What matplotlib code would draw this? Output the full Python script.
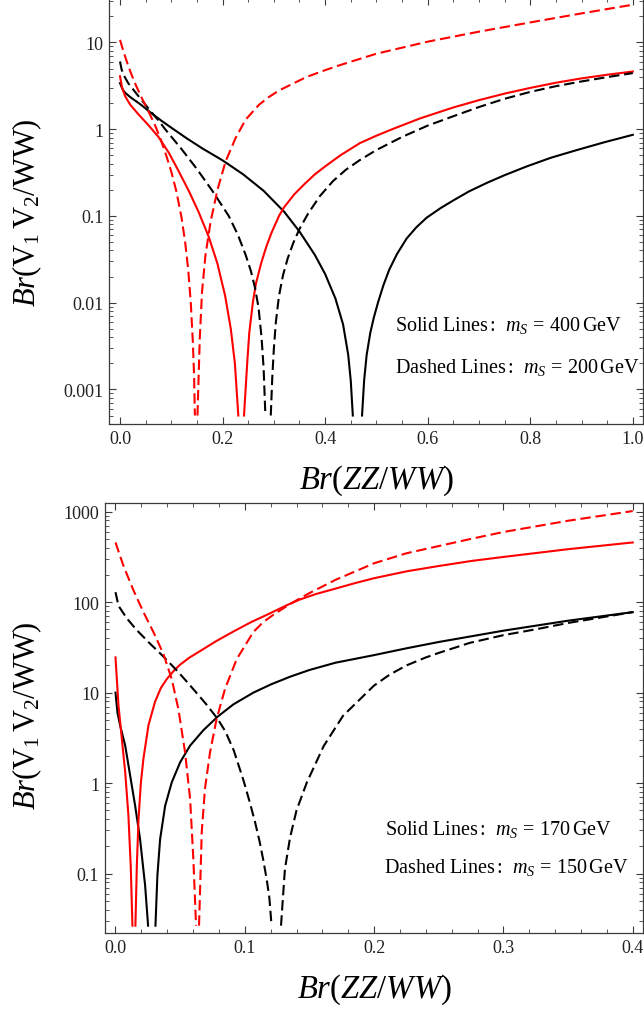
import numpy as np
import matplotlib
matplotlib.use("Agg")
import matplotlib.pyplot as plt
from matplotlib.ticker import FixedLocator, MultipleLocator, LogLocator, NullFormatter, FixedFormatter

plt.rcParams['font.family'] = ['Liberation Serif', 'DejaVu Serif']
plt.rcParams['mathtext.fontset'] = 'custom'
plt.rcParams['mathtext.rm'] = 'Liberation Serif'
plt.rcParams['mathtext.it'] = 'Liberation Serif:italic'
plt.rcParams['mathtext.bf'] = 'Liberation Serif:bold'

NAN = np.nan  # gap where a curve dips below the plotted range

# ---------------- Top panel data (m_S = 400 GeV solid, 200 GeV dashed) ----------------
top_black_solid_x = [0, 0.005, 0.01, 0.02, 0.04, 0.06, 0.08, 0.10, 0.13, 0.16, 0.20, 0.24, 0.28,
                     0.32, 0.35, 0.38, 0.40, 0.42, 0.435, 0.445, 0.45, 0.454, 0.463,
                     0.472, 0.476, 0.481, 0.488, 0.495, 0.503, 0.5135, 0.525, 0.54, 0.559, 0.578, 0.598,
                     0.625, 0.65, 0.68, 0.715, 0.75, 0.793, 0.84, 0.891, 0.945, 1.0]
top_black_solid_y = [3.39, 2.88, 2.63, 2.34, 1.93, 1.55, 1.26, 1.04, 0.785, 0.603, 0.437, 0.302, 0.195,
                     0.112, 0.0661, 0.0355, 0.0214, 0.0112, 0.00562, 0.00251, 0.00126, 0.000501, NAN,
                     0.000501, 0.00126, 0.00251, 0.00447, 0.00676, 0.0100, 0.0158, 0.0240, 0.0363, 0.0550,
                     0.0741, 0.0955, 0.123, 0.151, 0.191, 0.240, 0.295, 0.372, 0.468, 0.575, 0.708, 0.861]

top_red_solid_x = [0, 0.004, 0.01, 0.02, 0.036, 0.055, 0.075, 0.095, 0.114, 0.134, 0.153, 0.173, 0.19,
                   0.205, 0.216, 0.224, 0.2307, 0.236,
                   0.2418, 0.248, 0.252, 0.259, 0.265, 0.275, 0.285, 0.295, 0.31, 0.32, 0.34, 0.36, 0.38,
                   0.40, 0.43, 0.468, 0.50, 0.531, 0.585, 0.65, 0.70, 0.75, 0.80, 0.85, 0.90, 0.95, 1.0]
top_red_solid_y = [4.07, 3.02, 2.40, 1.91, 1.48, 1.12, 0.813, 0.537, 0.331, 0.195, 0.112, 0.0575, 0.0282,
                   0.0120, 0.00501, 0.00200, 0.000501, NAN,
                   0.000501, 0.00200, 0.00447, 0.0100, 0.0166, 0.0282, 0.0437, 0.0631, 0.100, 0.126, 0.178,
                   0.234, 0.302, 0.372, 0.501, 0.692, 0.841, 1.00, 1.33, 1.78, 2.16, 2.57, 2.99, 3.43, 3.85,
                   4.24, 4.62]

top_black_dash_x = [0, 0.003, 0.0065, 0.016, 0.036, 0.062, 0.075, 0.088, 0.12, 0.15, 0.18, 0.212, 0.23,
                    0.245, 0.255, 0.263, 0.27, 0.276, 0.28, 0.2835, 0.289,
                    0.294, 0.297, 0.30, 0.304, 0.31, 0.318, 0.327, 0.338, 0.35, 0.367, 0.39, 0.415, 0.44,
                    0.468, 0.50, 0.55, 0.60, 0.65, 0.70, 0.75, 0.80, 0.85, 0.90, 0.95, 1.0]
top_black_dash_y = [6.03, 4.90, 4.27, 3.39, 2.40, 1.55, 1.26, 1.00, 0.589, 0.347, 0.195, 0.100, 0.0603,
                    0.0355, 0.0234, 0.0151, 0.00891, 0.00398, 0.00178, 0.000501, NAN,
                    0.000501, 0.00141, 0.00295, 0.00603, 0.0120, 0.0209, 0.0324, 0.0490, 0.0708, 0.107,
                    0.170, 0.251, 0.339, 0.442, 0.575, 0.813, 1.10, 1.41, 1.80, 2.24, 2.69, 3.13, 3.55,
                    3.98, 4.43]

top_red_dash_x = [0, 0.005, 0.0098, 0.016, 0.023, 0.03, 0.04, 0.05, 0.06, 0.07, 0.08, 0.09, 0.10, 0.11,
                  0.12, 0.127, 0.133, 0.138, 0.142, 0.1445, 0.146, 0.1485,
                  0.151, 0.1556, 0.160, 0.1667, 0.1765, 0.19, 0.206, 0.2255, 0.245, 0.271, 0.29, 0.31,
                  0.363, 0.40, 0.43, 0.50, 0.60, 0.70, 0.80, 0.90, 1.0]
top_red_dash_y = [10.7, 8.51, 6.92, 5.37, 4.17, 3.31, 2.45, 1.86, 1.41, 1.05, 0.741, 0.501, 0.324, 0.191,
                  0.0955, 0.0501, 0.0240, 0.0100, 0.00355, 0.00141, 0.000501, NAN,
                  0.000501, 0.00398, 0.0135, 0.0355, 0.0851, 0.200, 0.427, 0.794, 1.29, 1.91, 2.34, 2.79,
                  3.98, 4.79, 5.50, 7.41, 10.2, 13.3, 17.0, 21.6, 27.2]

# ---------------- Bottom panel data (m_S = 170 GeV solid, 150 GeV dashed) ----------------
bot_black_solid_x = [0, 0.0015, 0.0036, 0.0075, 0.0113, 0.0152, 0.019, 0.0229, 0.0252, 0.028,
                     0.0309, 0.0324, 0.0345, 0.0384, 0.0435, 0.05, 0.0577, 0.068, 0.079, 0.0911, 0.1066,
                     0.12, 0.135, 0.15, 0.17, 0.2, 0.225, 0.25, 0.3, 0.35, 0.4]
bot_black_solid_y = [10.0, 6.03, 4.32, 2.60, 1.22, 0.562, 0.240, 0.0741, 0.0266, NAN,
                     0.0266, 0.0955, 0.240, 0.562, 1.02, 1.70, 2.60, 3.85, 5.43, 7.41, 10.0,
                     12.3, 15.0, 17.8, 21.4, 26.0, 30.9, 36.3, 48.4, 62.4, 77.6]

bot_red_solid_x = [0, 0.0023, 0.0049, 0.0075, 0.01, 0.0118, 0.0131, 0.0142,
                   0.0154, 0.0165, 0.0178, 0.0196, 0.0216, 0.0255, 0.0306, 0.035, 0.0396, 0.045, 0.05,
                   0.057, 0.0654, 0.078, 0.0911, 0.105, 0.117, 0.133, 0.1426, 0.155, 0.17, 0.185, 0.2,
                   0.225, 0.25, 0.275, 0.3, 0.35, 0.4]
bot_red_solid_y = [24.5, 7.24, 3.09, 1.32, 0.437, 0.120, 0.0266, NAN,
                   0.0266, 0.123, 0.398, 1.00, 1.86, 4.37, 7.94, 11.2, 14.1, 17.4, 20.4,
                   24.3, 28.8, 37.2, 47.3, 60.3, 72.4, 93.3, 107, 123, 141, 162, 184,
                   219, 251, 285, 316, 385, 457]

bot_black_dash_x = [0, 0.0023, 0.0088, 0.0165, 0.0268, 0.037, 0.0474, 0.055, 0.062, 0.07, 0.079, 0.085,
                    0.0915, 0.099, 0.104, 0.1079, 0.1115, 0.1143, 0.117, 0.119, 0.1207, 0.1243,
                    0.128, 0.131, 0.135, 0.14, 0.148, 0.161, 0.176, 0.2, 0.212, 0.225, 0.24, 0.25, 0.274,
                    0.3, 0.325, 0.35, 0.375, 0.4]
bot_black_dash_y = [129, 91.2, 66.1, 49.0, 34.7, 25.1, 17.6, 13.3, 10.2, 7.50, 5.13, 3.72,
                    2.29, 1.07, 0.603, 0.372, 0.224, 0.141, 0.0851, 0.0537, 0.0266, NAN,
                    0.0266, 0.112, 0.251, 0.501, 1.02, 2.57, 5.56, 12.0, 15.8, 20.0, 24.5, 27.5, 35.5,
                    43.2, 50.1, 58.9, 67.6, 77.6]

bot_red_dash_x = [0, 0.0062, 0.0139, 0.0216, 0.0293, 0.037, 0.0435, 0.0486, 0.0538, 0.0577, 0.0602, 0.0623,
                  0.0634,
                  0.0646, 0.0667, 0.0692, 0.0731, 0.0782, 0.0847, 0.0937, 0.1066, 0.1143, 0.122, 0.135,
                  0.1426, 0.15, 0.17, 0.2, 0.225, 0.25, 0.275, 0.3, 0.35, 0.4]
bot_red_dash_y = [457, 251, 135, 77.6, 46.8, 26.9, 14.1, 6.61, 2.19, 0.668, 0.145, 0.0266,
                  NAN,
                  0.0266, 0.288, 0.871, 2.19, 5.13, 11.0, 23.4, 46.8, 60.3, 72.4, 95.5,
                  110, 126, 176, 269, 347, 417, 501, 596, 794, 1016]

top_xticks = [0.0, 0.2, 0.4, 0.6, 0.8, 1.0]
top_xticklabels = ["0.0", "0.2", "0.4", "0.6", "0.8", "1.0"]
top_yticks = [0.001, 0.01, 0.1, 1, 10]
top_yticklabels = ["0.001", "0.01", "0.1", "1", "10"]
bot_xticks = [0.0, 0.1, 0.2, 0.3, 0.4]
bot_xticklabels = ["0.0", "0.1", "0.2", "0.3", "0.4"]
bot_yticks = [0.1, 1, 10, 100, 1000]
bot_yticklabels = ["0.1", "1", "10", "100", "1000"]

top_texts = [r"Solid Lines$\,$:  $m_S\,=\,400\,$GeV", r"Dashed Lines$\,$:  $m_S\,=\,200\,$GeV"]
bot_texts = [r"Solid Lines$\,$:  $m_S\,=\,170\,$GeV", r"Dashed Lines$\,$:  $m_S\,=\,150\,$GeV"]

W, H = 644, 1012
fig = plt.figure(figsize=(W / 100, H / 100), dpi=100)

def px_axes(l, t, r, b):
    return [l / W, 1 - b / H, (r - l) / W, (b - t) / H]

ax1 = fig.add_axes(px_axes(109.3, -1.0, 642.7, 425.0))
ax2 = fig.add_axes(px_axes(104.7, 504.0, 642.7, 934.3))

RED = '#ff0000'
LW = 1.5
DASH = (5.0, 2.3)

def style(ax, xticks, xlabels, yticks, ylabels, xminor):
    ax.set_yscale('log')
    for s in ax.spines.values():
        s.set_color('#3a3a3a')
        s.set_linewidth(0.9)
    ax.xaxis.set_major_locator(FixedLocator(xticks))
    ax.xaxis.set_major_formatter(FixedFormatter(xlabels))
    ax.xaxis.set_minor_locator(MultipleLocator(xminor))
    ax.yaxis.set_major_locator(FixedLocator(yticks))
    ax.yaxis.set_major_formatter(FixedFormatter(ylabels))
    ax.yaxis.set_minor_locator(LogLocator(base=10, subs=np.arange(2, 10), numticks=20))
    ax.yaxis.set_minor_formatter(NullFormatter())
    ax.tick_params(which='both', direction='in', top=True, right=True, color='#3a3a3a')
    ax.tick_params(which='major', length=5, width=0.8, labelsize=13, pad=4, labelcolor='#222222')
    ax.tick_params(which='minor', length=2.6, width=0.6)

def draw(ax, series):
    for x, y, color, dashed in series:
        if dashed:
            ax.plot(x, y, color=color, lw=LW, dashes=DASH)
        else:
            ax.plot(x, y, color=color, lw=LW)

draw(ax1, [
    (top_black_solid_x, top_black_solid_y, 'black', False),
    (top_red_solid_x, top_red_solid_y, RED, False),
    (top_black_dash_x, top_black_dash_y, 'black', True),
    (top_red_dash_x, top_red_dash_y, RED, True),
])
draw(ax2, [
    (bot_black_solid_x, bot_black_solid_y, 'black', False),
    (bot_red_solid_x, bot_red_solid_y, RED, False),
    (bot_black_dash_x, bot_black_dash_y, 'black', True),
    (bot_red_dash_x, bot_red_dash_y, RED, True),
])

style(ax1, top_xticks, top_xticklabels, top_yticks, top_yticklabels, 0.05)
style(ax2, bot_xticks, bot_xticklabels, bot_yticks, bot_yticklabels, 0.02)
ax1.set_xlim(-0.0209, 1.0193)
ax1.set_ylim(4.0e-4, 32.5)
ax2.set_xlim(-0.00835, 0.4077)
ax2.set_ylim(0.0219, 1247)

YLAB_FS = 22
XLAB_FS = 23.5
ylab = r"$\mathit{Br}(\mathrm{V}_1\,\mathrm{V}_2/\mathrm{WW})$"
xlab = r"$\mathit{Br}(ZZ/WW)$"
fig.text(27 / W, 1 - 213 / H, ylab, rotation=90, ha='center', va='center', fontsize=YLAB_FS)
fig.text(376 / W, 1 - 481 / H, xlab, ha='center', va='center', fontsize=XLAB_FS)
fig.text(27 / W, 1 - 716 / H, ylab, rotation=90, ha='center', va='center', fontsize=YLAB_FS)
fig.text(374 / W, 1 - 990 / H, xlab, ha='center', va='center', fontsize=XLAB_FS)

ANN_FS = 14.5
fig.text(395 / W, 1 - 325 / H, top_texts[0], ha='left', va='center', fontsize=ANN_FS)
fig.text(395 / W, 1 - 367 / H, top_texts[1], ha='left', va='center', fontsize=ANN_FS)
fig.text(385 / W, 1 - 830 / H, bot_texts[0], ha='left', va='center', fontsize=ANN_FS)
fig.text(384 / W, 1 - 867 / H, bot_texts[1], ha='left', va='center', fontsize=ANN_FS)

fig.savefig("out.png", dpi=100)
